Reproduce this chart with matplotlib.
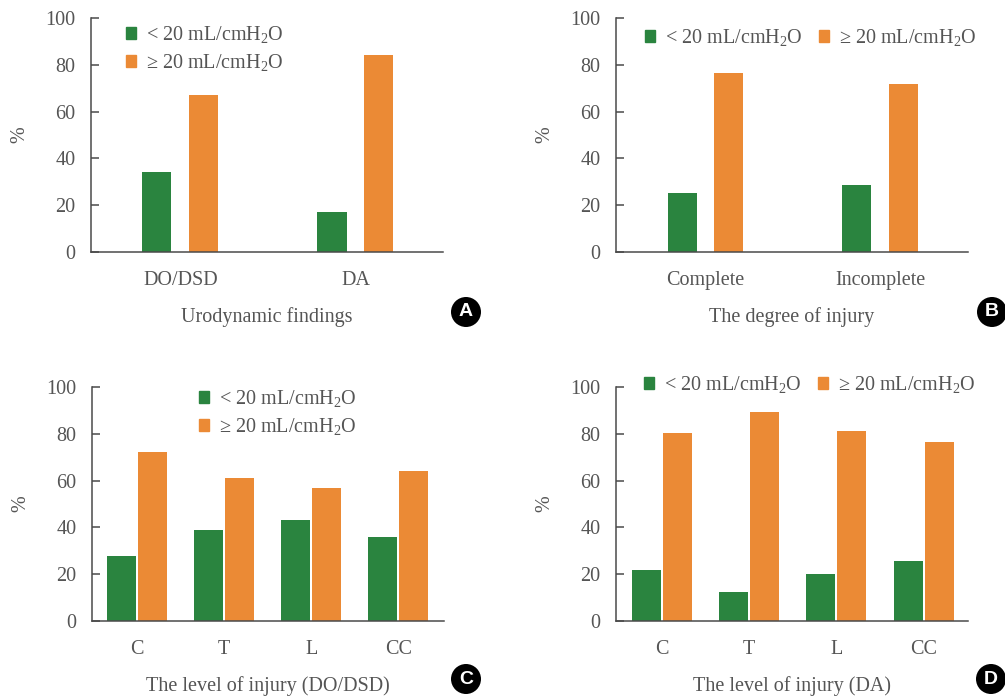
import matplotlib.pyplot as plt
import numpy as np
from matplotlib.patches import Patch, Circle

# ---------------------------------------------------------------------------
# Data
# ---------------------------------------------------------------------------
series_names = ["< 20 mL/cmH$_2$O", "\u2265 20 mL/cmH$_2$O"]

a_cats = ["DO/DSD", "DA"]
a_low = [34.4, 17.3]
a_high = [66.9, 84.0]

b_cats = ["Complete", "Incomplete"]
b_low = [25.0, 28.8]
b_high = [76.3, 72.0]

c_cats = ["C", "T", "L", "CC"]
c_low = [27.7, 38.8, 43.0, 35.8]
c_high = [72.1, 61.0, 56.7, 64.0]

d_cats = ["C", "T", "L", "CC"]
d_low = [21.7, 12.3, 20.0, 25.5]
d_high = [80.2, 89.2, 81.1, 76.3]

GREEN = "#2a843f"
ORANGE = "#eb8a35"
TXT = "#555555"
SPINE = "#4a4a4a"

plt.rcParams["font.family"] = ["Liberation Serif", "DejaVu Serif"]
plt.rcParams["mathtext.fontset"] = "custom"
plt.rcParams["mathtext.rm"] = "Liberation Serif"
plt.rcParams["mathtext.it"] = "Liberation Serif:italic"

W, H = 1005, 698
fig = plt.figure(figsize=(W / 100, H / 100), dpi=100)


def px_axes(left, top, right, bottom):
    return fig.add_axes([left / W, 1 - bottom / H, (right - left) / W, (bottom - top) / H])


def panel(ax, cats, low, high, xlabel, width, offset, xlim, legend_cfg):
    x = np.arange(len(cats))
    ax.bar(x - offset, low, width, color=GREEN, zorder=2)
    ax.bar(x + offset, high, width, color=ORANGE, zorder=2)
    ax.set_xlim(*xlim)
    ax.set_ylim(0, 100)
    ax.set_yticks(range(0, 101, 20))
    ax.set_xticks(x)
    ax.set_xticklabels(cats)
    for s in ("top", "right"):
        ax.spines[s].set_visible(False)
    for s in ("left", "bottom"):
        ax.spines[s].set_color(SPINE)
        ax.spines[s].set_linewidth(1.1)
        ax.spines[s].set_zorder(3)
    ax.tick_params(axis="y", direction="in", length=6, width=1.1, color=SPINE,
                   pad=11, labelsize=14.5, labelcolor=TXT)
    ax.tick_params(axis="x", length=0, pad=14, labelsize=14.5, labelcolor=TXT)
    ax.set_xlabel(xlabel, fontsize=14.5, color=TXT, labelpad=12)
    ax.set_ylabel("%", fontsize=14.5, color=TXT, labelpad=12)

    handles = [Patch(color=GREEN, label=series_names[0]),
               Patch(color=ORANGE, label=series_names[1])]
    ncol, anchor = legend_cfg
    ax.legend(handles=handles, ncol=ncol, loc="upper left",
              bbox_to_anchor=(anchor[0] / W, 1 - anchor[1] / H),
              bbox_transform=fig.transFigure, frameon=False,
              fontsize=14.5, labelcolor=TXT, handlelength=0.5, handleheight=0.5,
              handletextpad=0.5, columnspacing=0.8, labelspacing=0.35,
              borderpad=0, borderaxespad=0)


axA = px_axes(91, 18, 443, 252)
panel(axA, a_cats, a_low, a_high, "Urodynamic findings", 0.166, 0.134,
      (-0.51, 1.5), (1, (126, 24)))

axB = px_axes(616, 18, 968, 252)
panel(axB, b_cats, b_low, b_high, "The degree of injury", 0.166, 0.134,
      (-0.513, 1.504), (2, (645, 27)))

axC = px_axes(92, 387, 444, 621)
panel(axC, c_cats, c_low, c_high, "The level of injury (DO/DSD)", 0.333, 0.178,
      (-0.517, 3.523), (1, (199, 388)))

axD = px_axes(616, 387, 968, 621)
panel(axD, d_cats, d_low, d_high, "The level of injury (DA)", 0.333, 0.178,
      (-0.53, 3.51), (2, (644, 374)))

# panel letters
for letter, (cx, cy) in zip("ABCD", [(466, 312), (992, 312), (466, 679), (991, 679)]):
    fig.add_artist(Circle((cx / 100, (H - cy) / 100), 0.15, transform=fig.dpi_scale_trans,
                          facecolor="black", edgecolor="none"))
    fig.text(cx / W, 1 - cy / H, letter, ha="center", va="center", color="white",
             fontsize=14, fontweight="bold", family=["Liberation Sans", "DejaVu Sans"])

fig.savefig("out.png", dpi=100)
